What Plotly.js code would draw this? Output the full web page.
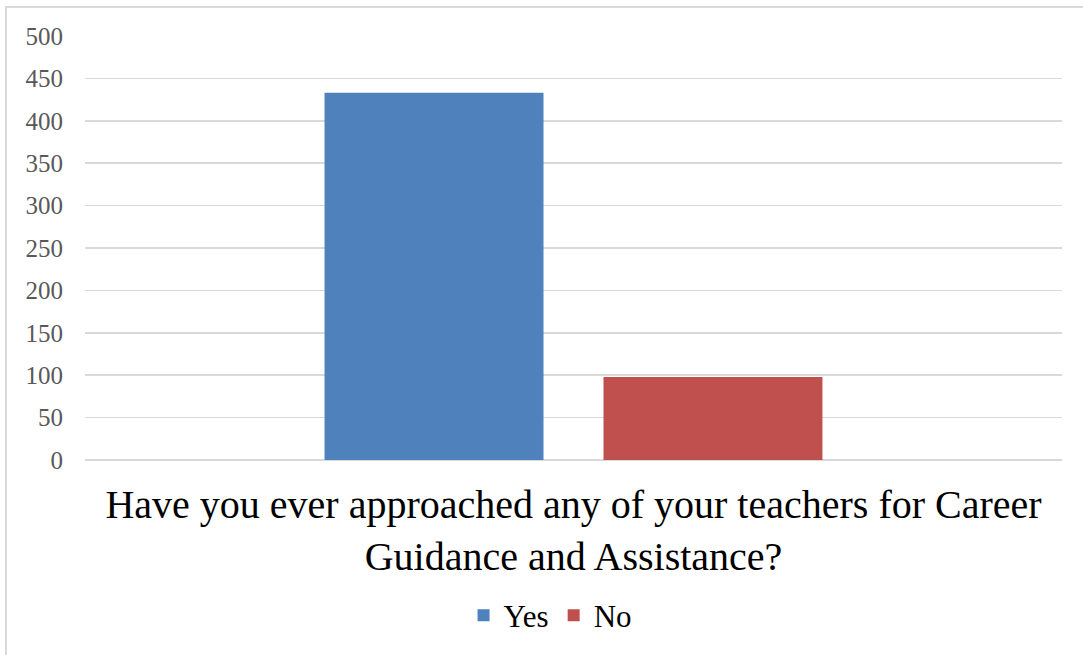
<!DOCTYPE html>
<html>
<head>
<meta charset="utf-8">
<script src="https://cdn.plot.ly/plotly-3.0.1.min.js"></script>
<style>
html,body{margin:0;padding:0;background:#fff;overflow:hidden;}
#chart{width:1083px;height:655px;position:absolute;left:0;top:0;}
#frame{position:absolute;left:5px;top:6px;width:1200px;height:800px;border:2px solid #d9d9d9;box-sizing:border-box;pointer-events:none;}
</style>
</head>
<body>
<div id="chart"></div>
<div id="frame"></div>
<script>
const categories = ["Have you ever approached any of your teachers for Career<br>Guidance and Assistance?"];
const seriesNames = ["Yes", "No"];
const yesValues = [433];
const noValues = [98];
const yTicks = [0, 50, 100, 150, 200, 250, 300, 350, 400, 450, 500];

const FONT = "Liberation Serif, DejaVu Serif, serif";

const traces = [
  {type: "bar", name: seriesNames[0], x: categories, y: yesValues, marker: {color: "#4f81bd"}},
  {type: "bar", name: seriesNames[1], x: categories, y: noValues, marker: {color: "#c0504d"}}
];

const layout = {
  width: 1083, height: 655,
  margin: {l: 85, r: 21, t: 36, b: 195},
  paper_bgcolor: "#ffffff", plot_bgcolor: "#ffffff",
  barmode: "group",
  bargap: 0.429,
  bargroupgap: 0.215,
  font: {family: FONT, color: "#000"},
  xaxis: {
    type: "category",
    range: [-0.5, 0.5],
    automargin: false,
    showgrid: false,
    showline: false,
    zeroline: false,
    ticks: "",
    ticklabelstandoff: 17,
    tickfont: {family: FONT, size: 40, color: "#000"},
    fixedrange: true
  },
  yaxis: {
    range: [0, 500],
    automargin: false,
    tickvals: yTicks,
    ticktext: yTicks.map(String),
    showgrid: true,
    gridcolor: "#d9d9d9",
    gridwidth: 1.5,
    zeroline: true,
    zerolinecolor: "#d9d9d9",
    zerolinewidth: 1.5,
    showline: false,
    ticks: "",
    ticklabelstandoff: 21,
    tickfont: {family: FONT, size: 25, color: "#595959"},
    fixedrange: true
  },
  showlegend: true,
  legend: {
    orientation: "h",
    x: 0.476, xanchor: "center",
    yref: "container",
    y: 0.06, yanchor: "middle",
    font: {family: FONT, size: 31, color: "#000"},
    itemwidth: 30,
    traceorder: "normal"
  }
};

Plotly.newPlot("chart", traces, layout, {displayModeBar: false, staticPlot: true});
</script>
</body>
</html>
